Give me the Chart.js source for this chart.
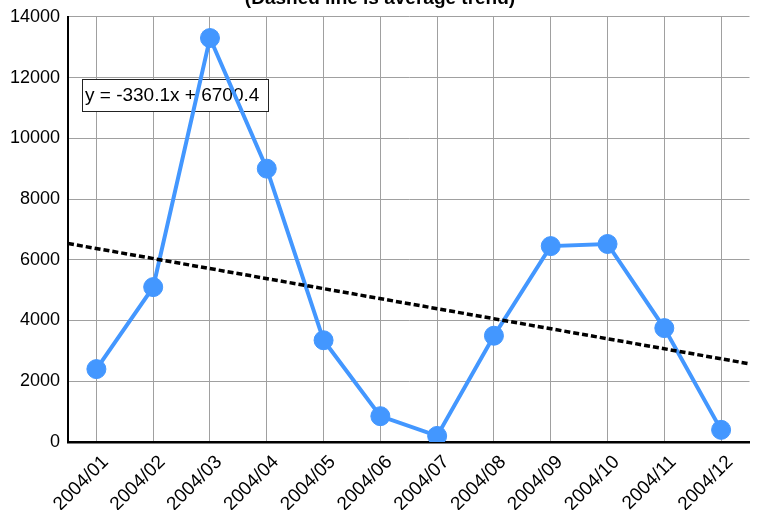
<!DOCTYPE html>
<html>
<head>
<meta charset="utf-8">
<script src="https://cdn.jsdelivr.net/npm/chart.js@4/dist/chart.umd.min.js"></script>
<style>
  html, body { margin: 0; padding: 0; background: #fff; overflow: hidden; }
  #wrap { position: relative; width: 757px; height: 510px; overflow: hidden; }
  #chart { position: absolute; left: 0; top: -20px; }
</style>
</head>
<body>
<div id="wrap"><canvas id="chart" width="760" height="530"></canvas></div>
<script>
  const months = ['2004/01', '2004/02', '2004/03', '2004/04', '2004/05', '2004/06',
    '2004/07', '2004/08', '2004/09', '2004/10', '2004/11', '2004/12'];
  const counts = [2400, 5100, 13300, 9000, 3350, 850, 200, 3500, 6450, 6520, 3750, 400];
  const yTicks = [0, 2000, 4000, 6000, 8000, 10000, 12000, 14000];

  // average trend, y = slope * x + intercept, x counted from 1
  const trendSlope = -330.1;
  const trendIntercept = 6700.4;
  const trendRange = [0.5, 12.5];

  const FONT = "'Liberation Sans', Arial, sans-serif";
  const BLUE = '#4397ff';

  const seriesPoints = counts.map((v, i) => ({ x: i + 1, y: v }));
  const trendPoints = trendRange.map((x) => ({ x: x, y: trendIntercept + trendSlope * x }));

  // equation label in a boxed note, under the data lines
  const equationBox = {
    id: 'equationBox',
    beforeDatasetsDraw(chart) {
      const ctx = chart.ctx;
      const text = `y = ${trendSlope}x + ${trendIntercept}`;
      ctx.save();
      ctx.fillStyle = '#fff';
      ctx.fillRect(82, 99, 186, 32);
      ctx.strokeStyle = '#222';
      ctx.lineWidth = 1;
      ctx.strokeRect(82.5, 99.5, 186, 32);
      ctx.fillStyle = '#000';
      ctx.font = `19px ${FONT}`;
      ctx.textBaseline = 'middle';
      ctx.fillText(text, 85, 116);
      ctx.restore();
    },
  };

  new Chart(document.getElementById('chart').getContext('2d'), {
    type: 'line',
    data: {
      datasets: [
        {
          label: 'Trend',
          data: trendPoints,
          borderColor: '#000',
          borderWidth: 3.5,
          borderDash: [6, 3],
          pointRadius: 0,
          order: 0,
        },
        {
          label: 'Count',
          data: seriesPoints,
          borderColor: BLUE,
          backgroundColor: BLUE,
          borderWidth: 4,
          pointRadius: 9.5,
          pointBorderWidth: 1,
          pointBackgroundColor: BLUE,
          order: 1,
        },
      ],
    },
    options: {
      responsive: false,
      animation: false,
      layout: { padding: 0 },
      plugins: {
        legend: { display: false },
        tooltip: { enabled: false },
        title: {
          display: true,
          text: '(Dashed line is average trend)',
          color: '#000',
          font: { family: FONT, size: 19, weight: 'bold' },
          padding: { top: 7, bottom: 7 },
        },
      },
      scales: {
        x: {
          type: 'linear',
          min: trendRange[0],
          max: trendRange[1],
          afterBuildTicks(axis) {
            axis.ticks = months.map((_, i) => ({ value: i + 1 }));
          },
          afterFit(axis) {
            axis.height = 68;
          },
          ticks: {
            autoSkip: false,
            minRotation: 45,
            maxRotation: 45,
            padding: 9,
            labelOffset: 9,
            color: '#000',
            font: { family: FONT, size: 19 },
            callback: (value) => months[value - 1] || '',
          },
          grid: { color: '#a0a0a0', lineWidth: 1, drawTicks: false },
          border: { color: '#000', width: 2.5 },
        },
        y: {
          min: 0,
          max: 14000,
          afterBuildTicks(axis) {
            axis.ticks = yTicks.map((v) => ({ value: v }));
          },
          afterFit(axis) {
            axis.width = 68;
          },
          ticks: {
            padding: 8,
            color: '#000',
            font: { family: FONT, size: 18 },
            callback: (value) => String(value),
          },
          grid: { color: '#a0a0a0', lineWidth: 1, drawTicks: false },
          border: { color: '#000', width: 2 },
        },
      },
    },
    plugins: [equationBox],
  });
</script>
</body>
</html>
